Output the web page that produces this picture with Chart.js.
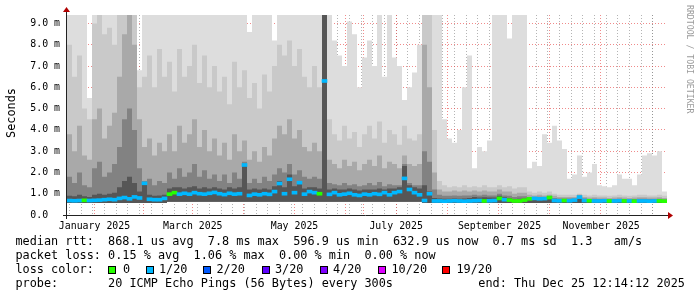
<!DOCTYPE html>
<html>
<head>
<meta charset="utf-8">
<script src="https://cdn.jsdelivr.net/npm/chart.js@4.4.1/dist/chart.umd.min.js"></script>
<style>
  body { margin: 0; background: #fff; }
  #wrap { position: relative; width: 697px; height: 297px; font-family: 'DejaVu Sans Mono', monospace; font-size: 11.83px; color: #000; }
  #wrap canvas { position: absolute; left: 0; top: 0; }
  .t { position: absolute; white-space: pre; line-height: 14px; }
  .box { position: absolute; top: 266px; width: 6px; height: 6px; border: 1px solid #000; }
  #ylabel { position: absolute; left: -19px; top: 106px; width: 60px; text-align: center; line-height: 14px; transform: rotate(-90deg); }
  #mark { position: absolute; left: 685px; top: 5px; writing-mode: vertical-rl; font-size: 8.2px; color: #9a9a9a; white-space: pre; }
</style>
</head>
<body>
<div id="wrap">
  <canvas id="rrd" width="697" height="297"></canvas>
  <div id="ylabel">Seconds</div>
  <div id="mark">RRDTOOL / TOBI OETIKER</div>

  <div class="t" style="left:15.5px;top:234px">median rtt:  868.1 us avg  7.8 ms max  596.9 us min  632.9 us now  0.7 ms sd  1.3   am/s</div>
  <div class="t" style="left:15.5px;top:248px">packet loss: 0.15 % avg  1.06 % max  0.00 % min  0.00 % now</div>
  <div class="t" style="left:15.5px;top:262px">loss color:</div>
  <div id="lossLegend"></div>
  <div class="t" style="left:15.5px;top:276px">probe:       20 ICMP Echo Pings (56 Bytes) every 300s            end: Thu Dec 25 12:14:12 2025</div>
</div>

<script>
// time axis: days relative to Jan 1 2025, one bucket = 3 days
const firstDay = -1;
const lastDay = 359;
const bucketDays = 3;

const monthStarts = [0, 31, 59, 90, 120, 151, 181, 212, 243, 273, 304, 334];
const monthLabels = ['January 2025', 'March 2025', 'May 2025', 'July 2025', 'September 2025', 'November 2025'];
const labelMonths = [0, 2, 4, 6, 8, 10];
const firstSunday = 4;

const yTicks = [0, 1, 2, 3, 4, 5, 6, 7, 8, 9];

// median rtt per bucket (ms)
const medianMs = [
  0.68,0.67,0.68,0.69,0.68,0.69,0.70,0.72,0.74,0.72,
  0.78,0.82,0.76,0.85,0.80,1.49,0.74,0.72,0.72,0.78,
  0.98,1.05,0.98,1.02,0.98,1.05,1.00,0.98,1.02,1.06,
  1.00,0.96,1.02,0.98,1.00,2.35,0.92,0.98,0.95,1.00,
  0.97,1.10,1.48,1.00,1.68,1.05,1.52,0.98,1.10,1.05,
  1.00,6.30,0.97,1.05,0.95,0.98,1.02,0.95,0.92,0.98,
  0.95,1.00,0.97,1.05,0.95,1.05,1.10,1.72,1.20,1.05,
  0.95,0.68,1.00,0.66,0.66,0.65,0.66,0.67,0.66,0.65,
  0.66,0.67,0.68,0.66,0.67,0.68,0.78,0.72,0.70,0.66,
  0.66,0.70,0.76,0.78,0.76,0.77,0.82,0.68,0.67,0.68,
  0.67,0.70,0.84,0.68,0.67,0.66,0.66,0.67,0.66,0.66,
  0.67,0.66,0.66,0.65,0.66,0.66,0.65,0.66,0.66,0.65
];

// lost pings out of 20 per bucket
const lossCount = [
  1,1,1,0,1,1,1,1,1,1,
  1,1,1,1,1,1,1,1,1,1,
  0,0,1,1,1,1,1,1,1,1,
  1,1,1,1,1,1,1,1,1,1,
  1,1,1,1,1,1,1,1,1,1,
  0,1,1,1,1,1,1,1,1,1,
  1,1,1,1,1,1,1,1,1,1,
  1,1,1,1,1,1,1,1,1,1,
  1,1,1,0,1,1,0,1,0,0,
  0,0,0,1,1,1,0,1,1,0,
  1,1,1,1,0,1,1,1,0,1,
  1,0,1,0,1,1,1,1,0,0
];

// smoke: upper edge of each gray band (ms), lightest first
const smokeTop = [
  9.4,9.4,9.4,9.4,5.5,9.4,9.4,9.4,9.4,9.4,
  9.4,9.4,9.4,9.4,6.8,9.4,9.4,9.4,9.4,9.4,
  9.4,9.4,9.4,9.4,9.4,9.4,9.4,9.4,9.4,9.4,
  9.4,9.4,9.4,9.4,9.4,9.4,8.6,9.4,9.4,9.4,
  9.4,8.2,9.4,9.4,9.4,9.4,9.4,9.4,9.4,9.4,
  9.4,9.4,9.4,8.2,7.5,7.0,9.1,8.5,6.0,7.4,
  8.2,7.0,9.4,6.5,9.4,7.4,7.0,5.4,6.0,6.7,
  8.0,9.4,9.4,9.4,9.4,4.5,3.6,3.4,4.0,6.0,
  7.5,2.2,3.2,3.0,3.5,9.4,9.4,9.4,8.3,9.4,
  9.4,9.4,2.2,2.5,2.3,3.8,3.4,4.2,3.5,3.1,
  1.7,1.9,2.8,1.8,2.0,2.4,1.4,1.35,1.3,1.4,
  1.9,1.7,1.7,1.4,1.9,2.8,2.9,2.8,3.0,1.1
];
const smokeHigh = [
  8.0,6.5,7.5,5.0,4.5,9.0,9.4,8.5,8.8,8.0,
  9.4,9.4,9.4,9.4,6.0,6.5,7.5,6.0,7.8,6.5,
  7.2,5.8,7.8,6.5,7.0,8.0,6.2,7.5,6.0,7.0,
  5.8,6.5,5.2,7.2,6.0,6.8,5.5,6.2,5.0,6.6,
  5.8,7.0,8.0,7.5,8.2,7.0,7.8,6.5,6.0,7.0,
  6.0,9.4,4.5,3.8,3.5,4.2,3.6,3.9,3.2,3.8,
  4.2,3.6,4.4,3.4,4.0,3.8,3.3,4.2,3.6,3.5,
  3.8,9.4,9.4,4.0,1.6,1.4,1.3,1.35,1.3,1.4,
  1.3,1.35,1.3,1.4,1.3,1.3,1.4,1.3,1.35,1.25,
  1.3,1.3,1.1,1.05,1.1,1.05,1.1,1.0,0.95,0.95,
  0.95,0.95,1.0,0.95,0.92,0.95,0.92,0.92,0.9,0.92,
  0.95,0.92,0.9,0.92,0.95,0.95,0.92,0.92,0.95,0.9
];
const smokeMid = [
  3.8,3.0,4.2,2.8,2.6,4.5,5.0,3.6,4.2,4.8,
  6.5,8.5,9.4,8.0,4.5,3.2,3.6,2.8,3.4,3.0,
  3.8,3.0,4.2,3.4,3.8,4.5,3.2,4.0,3.0,3.6,
  2.8,3.4,2.6,3.8,3.0,3.5,2.6,3.0,2.5,3.2,
  2.8,3.6,4.2,3.8,4.5,3.6,4.0,3.2,3.0,3.4,
  3.0,9.4,2.6,2.4,2.2,2.6,2.3,2.5,2.1,2.4,
  2.6,2.3,2.8,2.2,2.5,2.4,2.2,2.8,2.4,2.3,
  2.4,8.0,6.0,2.0,1.2,1.1,1.1,1.15,1.1,1.15,
  1.1,1.15,1.1,1.15,1.1,1.1,1.2,1.1,1.1,1.0,
  1.05,1.05,0.95,0.92,0.95,0.92,0.95,0.9,0.85,0.85,
  0.85,0.85,0.95,0.85,0.82,0.84,0.82,0.82,0.8,0.82,
  0.84,0.82,0.8,0.82,0.84,0.84,0.82,0.82,0.84,0.8
];
const smokeLow = [
  1.8,1.5,2.0,1.4,1.3,2.2,2.5,1.8,2.0,2.4,
  3.2,4.5,5.0,4.0,2.2,1.6,1.7,1.4,1.6,1.5,
  2.0,1.7,2.2,1.8,2.0,2.4,1.8,2.1,1.7,1.9,
  1.6,1.9,1.5,2.0,1.7,2.5,1.5,1.7,1.5,1.8,
  1.6,1.9,2.2,2.0,2.4,1.9,2.1,1.8,1.7,1.8,
  1.7,9.4,1.5,1.45,1.4,1.5,1.4,1.45,1.35,1.4,
  1.5,1.4,1.55,1.35,1.45,1.4,1.4,2.4,1.5,1.4,
  1.4,3.0,2.5,1.2,0.95,0.9,0.9,0.92,0.9,0.92,
  0.92,0.95,0.92,0.95,0.92,0.92,1.0,0.92,0.9,0.85,
  0.88,0.88,0.85,0.85,0.86,0.85,0.88,0.8,0.77,0.77,
  0.77,0.78,0.9,0.77,0.75,0.76,0.75,0.75,0.74,0.75,
  0.76,0.75,0.74,0.75,0.76,0.76,0.75,0.75,0.76,0.73
];
const smokeCore = [
  0.9,0.88,0.95,0.88,0.85,0.95,1.0,0.95,1.0,1.05,
  1.3,1.6,1.8,1.5,1.1,1.5,0.95,0.9,0.92,0.95,
  1.25,1.3,1.3,1.25,1.3,1.35,1.25,1.3,1.25,1.3,
  1.25,1.2,1.3,1.25,1.3,2.4,1.2,1.25,1.2,1.25,
  1.2,1.35,1.6,1.3,1.9,1.35,1.6,1.25,1.3,1.3,
  1.25,9.4,1.2,1.25,1.2,1.2,1.25,1.2,1.15,1.2,
  1.2,1.2,1.25,1.2,1.25,1.25,1.3,2.3,1.4,1.3,
  1.25,1.4,1.1,0.8,0.78,0.76,0.76,0.78,0.76,0.78,
  0.8,0.85,0.82,0.84,0.82,0.82,0.9,0.84,0.8,0.75,
  0.76,0.78,0.82,0.84,0.82,0.82,0.86,0.74,0.72,0.72,
  0.72,0.74,0.86,0.72,0.71,0.7,0.7,0.71,0.7,0.7,
  0.71,0.7,0.7,0.7,0.71,0.71,0.7,0.7,0.71,0.69
];
// fastest ping per bucket (bottom of the smoke)
const smokeFloor = [
  0.56,0.56,0.56,0.56,0.56,0.56,0.56,0.56,0.56,0.56,
  0.56,0.56,0.56,0.56,0.56,0.56,0.56,0.56,0.56,0.56,
  0.62,0.62,0.62,0.62,0.62,0.62,0.62,0.62,0.62,0.62,
  0.62,0.62,0.62,0.62,0.62,0.62,0.62,0.62,0.62,0.62,
  0.62,0.62,0.62,0.62,0.62,0.62,0.62,0.62,0.62,0.62,
  0.62,0.62,0.62,0.62,0.62,0.62,0.62,0.62,0.62,0.62,
  0.62,0.62,0.62,0.62,0.62,0.62,0.62,0.62,0.62,0.62,
  0.62,0.56,0.56,0.56,0.56,0.56,0.56,0.56,0.56,0.56,
  0.56,0.56,0.56,0.56,0.56,0.56,0.56,0.56,0.56,0.56,
  0.56,0.56,0.56,0.56,0.56,0.56,0.56,0.56,0.56,0.56,
  0.56,0.56,0.56,0.56,0.56,0.56,0.56,0.56,0.56,0.56,
  0.56,0.56,0.56,0.56,0.56,0.56,0.56,0.56,0.56,0.56
];

const lossLegend = [
  { label: '0',     color: '#26ff00', box: 108, text: 123 },
  { label: '1/20',  color: '#00b8ff', box: 146, text: 159 },
  { label: '2/20',  color: '#0059ff', box: 203, text: 216.5 },
  { label: '3/20',  color: '#5e00ff', box: 262, text: 275 },
  { label: '4/20',  color: '#7e00ff', box: 320, text: 333 },
  { label: '10/20', color: '#dd00ff', box: 378, text: 391.5 },
  { label: '19/20', color: '#ff0000', box: 442, text: 456.5 }
];
const lossColors = { 0: '#26ff00', 1: '#00b8ff' };

const majorGrid = 'rgba(230,60,60,0.6)';
const minorGrid = 'rgba(130,130,130,0.6)';

// legend row
const legendEl = document.getElementById('lossLegend');
lossLegend.forEach(l => {
    const b = document.createElement('div');
    b.className = 'box';
    b.style.left = l.box + 'px';
    b.style.background = l.color;
    legendEl.appendChild(b);
    const t = document.createElement('div');
    t.className = 't';
    t.style.left = l.text + 'px';
    t.style.top = '262px';
    t.textContent = l.label;
    legendEl.appendChild(t);
});

const days = medianMs.map((_, i) => firstDay + i * bucketDays);

function band(values) {
    const pts = values.map((v, i) => ({ x: days[i], y: v }));
    pts.push({ x: lastDay, y: values[values.length - 1] });
    return pts;
}

function smokeLayer(values, color) {
    return {
        type: 'line',
        data: band(values),
        stepped: true,
        borderColor: 'rgba(0,0,0,0)',
        borderWidth: 1,
        pointRadius: 0,
        backgroundColor: color,
        fill: 6
    };
}

const axisArrows = {
    id: 'axisArrows',
    afterDraw(chart) {
        const { ctx, chartArea: a } = chart;
        ctx.save();
        ctx.strokeStyle = '#222';
        ctx.lineWidth = 1;
        ctx.beginPath();
        ctx.moveTo(a.left - 4, a.bottom + 0.5);
        ctx.lineTo(a.right + 1, a.bottom + 0.5);
        ctx.moveTo(a.left - 0.5, a.bottom + 4);
        ctx.lineTo(a.left - 0.5, a.top - 3);
        ctx.stroke();
        ctx.fillStyle = '#b00000';
        ctx.beginPath();
        ctx.moveTo(a.right + 1, a.bottom - 3);
        ctx.lineTo(a.right + 6, a.bottom + 0.5);
        ctx.lineTo(a.right + 1, a.bottom + 4);
        ctx.closePath();
        ctx.fill();
        ctx.beginPath();
        ctx.moveTo(a.left - 4, a.top - 3);
        ctx.lineTo(a.left - 0.5, a.top - 8);
        ctx.lineTo(a.left + 3, a.top - 3);
        ctx.closePath();
        ctx.fill();
        ctx.restore();
    }
};

function xGridColor(ctx) {
    if (!ctx.tick) return minorGrid;
    if (ctx.tick.kind === 'month') return majorGrid;
    if (ctx.tick.kind === 'week') return minorGrid;
    return 'rgba(0,0,0,0)';
}

function yGridColor(ctx) {
    if (!ctx.tick) return minorGrid;
    return ctx.tick.value % 1 === 0 ? majorGrid : minorGrid;
}

Chart.defaults.font.family = "'DejaVu Sans Mono', monospace";
Chart.defaults.font.size = 9.9;
Chart.defaults.color = '#000';

new Chart(document.getElementById('rrd'), {
    type: 'line',
    data: {
        datasets: [
            {
                type: 'bar',
                data: medianMs.map((m, i) => ({ x: days[i] + bucketDays / 2, y: [m - 0.07, m + 0.07] })),
                backgroundColor: lossCount.map(c => lossColors[c]),
                borderWidth: 0,
                barPercentage: 1,
                categoryPercentage: 1
            },
            smokeLayer(smokeCore, '#565656'),
            smokeLayer(smokeLow, '#828282'),
            smokeLayer(smokeMid, '#a9a9a9'),
            smokeLayer(smokeHigh, '#c9c9c9'),
            smokeLayer(smokeTop, '#dddddd'),
            {
                type: 'line',
                data: band(smokeFloor),
                stepped: true,
                borderColor: 'rgba(0,0,0,0)',
                borderWidth: 1,
                pointRadius: 0,
                fill: false
            }
        ]
    },
    options: {
        responsive: false,
        animation: false,
        events: [],
        layout: { padding: { top: 15, right: 30, left: 0, bottom: 0 } },
        plugins: { legend: { display: false }, tooltip: { enabled: false } },
        scales: {
            x: {
                type: 'linear',
                min: firstDay,
                max: lastDay,
                offset: false,
                z: 1,
                afterFit(scale) { scale.height = 82; },
                afterBuildTicks(scale) {
                    const ticks = [];
                    for (let d = firstSunday; d <= lastDay; d += 7) ticks.push({ value: d, kind: 'week' });
                    monthStarts.forEach(d => ticks.push({ value: d, kind: 'month' }));
                    labelMonths.forEach((m, k) => ticks.push({ value: monthStarts[m] + 15.5, kind: 'label', text: monthLabels[k] }));
                    scale.ticks = ticks;
                },
                grid: { drawTicks: false, color: xGridColor },
                border: { display: false, dash: [1, 2] },
                ticks: {
                    autoSkip: false,
                    maxRotation: 0,
                    padding: 5,
                    callback(value, index, ticks) {
                        const t = ticks[index];
                        return t && t.kind === 'label' ? t.text : '';
                    }
                }
            },
            y: {
                min: 0,
                max: 9.4,
                z: 1,
                afterFit(scale) { scale.width = 67; },
                afterBuildTicks(scale) {
                    const ticks = [];
                    yTicks.forEach(v => { ticks.push({ value: v }); if (v + 0.5 < 9.4) ticks.push({ value: v + 0.5 }); });
                    scale.ticks = ticks;
                },
                grid: { drawTicks: false, color: yGridColor },
                border: { display: false, dash: [1, 2] },
                ticks: {
                    padding: 7,
                    callback(value) {
                        if (value % 1 !== 0) return '';
                        return value === 0 ? '0.0  ' : value.toFixed(1) + ' m';
                    }
                }
            }
        }
    },
    plugins: [axisArrows]
});
</script>
</body>
</html>
